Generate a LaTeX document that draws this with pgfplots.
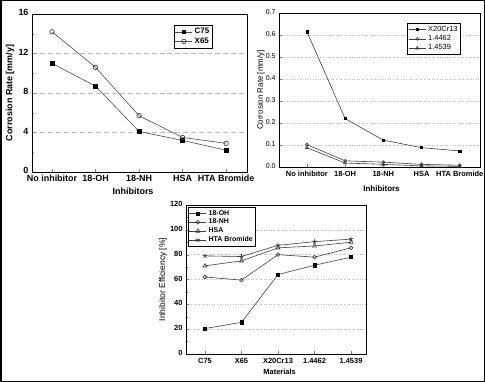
\documentclass[border=0pt]{standalone}
\usepackage{pgfplots}
\pgfplotsset{compat=1.18}
\usepackage{fontspec}
\setmainfont{Liberation Sans}
\begin{document}
\begin{tikzpicture}
\useasboundingbox (0bp,0bp) rectangle (485bp,382bp);
\fill[white] (0bp,0bp) rectangle (485bp,382bp);
\pgfplotsset{
  every axis/.append style={
    scale only axis, anchor=south west,
    /pgf/number format/assume math mode=true,
    tick align=inside, axis line style={line width=0.8pt},
    major tick length=3bp, minor tick length=2bp,
    xtick=data, xtick pos=bottom, ytick pos=left,
    typeset ticklabels with strut,
    legend cell align=left,
    legend style={draw=black, line width=0.6pt, fill=white, inner sep=1pt, row sep=-1.5pt},
  },
}
% ---------- top left ----------
\begin{axis}[
  at={(32bp,210bp)}, width=215bp, height=158bp,
  xmin=-0.46, xmax=4.48, ymin=0, ymax=16,
  ytick={0,4,8,12,16}, minor y tick num=1,
  xticklabels={No inhibitor,18-OH,18-NH,HSA,HTA Bromide},
  ymajorgrids, major grid style={gray!55, line width=0.6pt, dash pattern=on 5pt off 3pt},
  tick label style={font=\bfseries\fontsize{9}{10}\selectfont},
  xticklabel style={yshift=1bp},
  ylabel={Corrosion Rate [mm/y]}, xlabel={Inhibitors},
  label style={font=\bfseries\fontsize{9}{10}\selectfont},
  ylabel style={at={(axis description cs:-0.102,0.5)}, anchor=center},
  xlabel style={at={(axis description cs:0.47,-0.125)}, anchor=center},
  legend style={at={(0.84,0.93)}, anchor=north east, font=\bfseries\fontsize{8}{9}\selectfont},
]
\addplot[black!70, line width=0.6pt, mark=square*, mark size=1.9pt, mark options={black, fill=black}]
  coordinates {(0,11.0) (1,8.7) (2,4.1) (3,3.2) (4,2.2)};
\addlegendentry{C75}
\addplot[black!70, line width=0.6pt, mark=o, mark size=2.3pt, mark options={black!80, fill=white}]
  coordinates {(0,14.2) (1,10.6) (2,5.7) (3,3.5) (4,2.9)};
\addlegendentry{X65}
\end{axis}
% ---------- top right ----------
\begin{axis}[
  at={(279bp,215bp)}, width=201bp, height=154bp,
  xmin=-0.73, xmax=4.53, ymin=0, ymax=0.7,
  ytick={0,0.1,...,0.7},
  yticklabel style={/pgf/number format/fixed, /pgf/number format/fixed zerofill, /pgf/number format/precision=1, font=\fontsize{7}{8}\selectfont},
  xticklabels={No inhibitor,18-OH,18-NH,HSA,HTA Bromide},
  ymajorgrids, major grid style={gray!50, line width=0.6pt, dotted},
  xticklabel style={font=\bfseries\fontsize{7.5}{8}\selectfont},
  ylabel={Corrosion Rate [mm/y]}, xlabel={Inhibitors},
  ylabel style={font=\fontsize{8}{9}\selectfont, at={(axis description cs:-0.09,0.5)}, anchor=center},
  xlabel style={font=\bfseries\fontsize{8}{9}\selectfont, at={(axis description cs:0.51,-0.14)}, anchor=center},
  legend style={at={(0.905,0.935)}, anchor=north east, font=\fontsize{7.5}{8.5}\selectfont},
]
\addplot[black!75, line width=0.6pt, mark=square*, mark size=1.1pt, mark options={black, fill=black}]
  coordinates {(0,0.615) (1,0.22) (2,0.122) (3,0.088) (4,0.073)};
\addlegendentry{X20Cr13}
\addplot[black!75, line width=0.6pt, mark=o, mark size=1.5pt, mark options={black!80, fill=white}]
  coordinates {(0,0.102) (1,0.028) (2,0.022) (3,0.012) (4,0.008)};
\addlegendentry{1.4462}
\addplot[black!75, line width=0.6pt, mark=triangle, mark size=1.8pt, mark options={black!80, fill=white}]
  coordinates {(0,0.088) (1,0.018) (2,0.012) (3,0.005) (4,0.003)};
\addlegendentry{1.4539}
\end{axis}
% ---------- bottom ----------
\begin{axis}[
  at={(186bp,28bp)}, width=180bp, height=149bp,
  xmin=-0.52, xmax=4.41, ymin=0, ymax=120,
  ytick={0,20,...,120}, minor y tick num=1,
  xticklabels={C75,X65,X20Cr13,1.4462,1.4539},
  ymajorgrids, major grid style={gray!50, line width=0.6pt, dotted},
  tick label style={font=\bfseries\fontsize{7.5}{8}\selectfont},
  ylabel={Inhibitor Efficiency [\%]}, xlabel={Materials},
  ylabel style={font=\fontsize{8.5}{10}\selectfont, at={(axis description cs:-0.128,0.5)}, anchor=center},
  xlabel style={font=\bfseries\fontsize{7.5}{9}\selectfont, at={(axis description cs:0.52,-0.12)}, anchor=center},
  legend style={at={(0.01,0.987)}, anchor=north west, font=\bfseries\fontsize{7}{8}\selectfont},
]
\addplot[black!75, line width=0.6pt, mark=square*, mark size=1.6pt, mark options={black, fill=black}]
  coordinates {(0,20.5) (1,25.5) (2,64) (3,71.5) (4,78)};
\addlegendentry{18-OH}
\addplot[black!75, line width=0.6pt, mark=o, mark size=1.9pt, mark options={black!80, fill=white}]
  coordinates {(0,62) (1,59.5) (2,80) (3,78) (4,85.5)};
\addlegendentry{18-NH}
\addplot[black!75, line width=0.6pt, mark=triangle, mark size=2.3pt, mark options={black!80, fill=white}]
  coordinates {(0,71) (1,75) (2,85.5) (3,87) (4,90)};
\addlegendentry{HSA}
\addplot[black!75, line width=0.6pt, mark=star, mark size=2.3pt, mark options={black!80}]
  coordinates {(0,79) (1,78.5) (2,87.5) (3,90.5) (4,92.5)};
\addlegendentry{HTA Bromide}
\end{axis}
\draw[line width=1.5bp] (0.75bp,0.75bp) rectangle (484.25bp,381.25bp);
\end{tikzpicture}
\end{document}
